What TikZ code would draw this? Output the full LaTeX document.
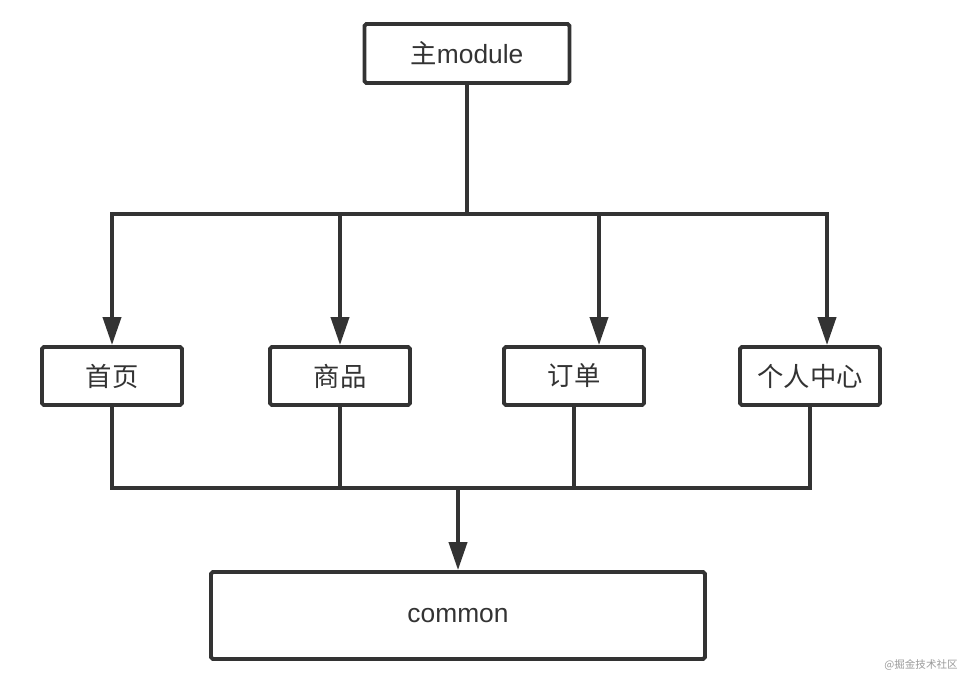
\documentclass[tikz,border=0pt]{standalone}
\usepackage{fontspec}
\setmainfont{Liberation Sans}
\newfontfamily\cjk{Noto Sans CJK SC}
\usetikzlibrary{arrows.meta}
\definecolor{DiagLine}{HTML}{333333}
\definecolor{DiagMark}{HTML}{9A9A9A}

\begin{document}
\begin{tikzpicture}[
  x=0.02cm, y=-0.02cm,
  every node/.style={font=\fontsize{15}{17}\selectfont, text=DiagLine},
  modbox/.style={draw=DiagLine, line width=2.2pt, rounded corners=1pt,
    minimum width=2.8cm, minimum height=1.16cm, inner sep=0pt},
  link/.style={draw=DiagLine, line width=2.2pt},
  tip/.style={-{Triangle[length=0.56cm, width=0.36cm]}},
  tipboth/.style={{Triangle[length=0.56cm, width=0.36cm]}-{Triangle[length=0.56cm, width=0.36cm]}},
]
\useasboundingbox (0,0) rectangle (972,684);

% ============ top: main module ============
\node[modbox, minimum width=4.1cm, minimum height=1.18cm] (main) at (467,53.5) {{\cjk 主}module};

% ============ middle row: feature modules ============
\node[modbox] (home)   at (112,376) {\cjk 首页};
\node[modbox] (goods)  at (340,376) {\cjk 商品};
\node[modbox] (order)  at (574,376) {\cjk 订单};
\node[modbox] (mine)   at (810,376) {\cjk 个人中心};

% ============ bottom: common ============
\node[modbox, minimum width=9.88cm, minimum height=1.74cm] (common) at (458,615.5) {common};

% bus points
\coordinate (topbus) at (467,214);
\coordinate (drop1) at (112,214);
\coordinate (drop2) at (340,214);
\coordinate (drop3) at (599,214);
\coordinate (drop4) at (827,214);
\coordinate (botbus) at (458,488);

% main -> features
\draw[link] (main.south) -- (topbus);
\draw[link, tipboth] (drop1 |- home.north) -- (drop1) -- (drop4) -- (drop4 |- mine.north);
\draw[link, tip] (drop2) -- (drop2 |- goods.north);
\draw[link, tip] (drop3) -- (drop3 |- order.north);

% features -> common
\draw[link] (home.south) |- (botbus) -| (mine.south);
\draw[link] (goods.south) -- (goods.south |- botbus);
\draw[link] (order.south) -- (order.south |- botbus);
\draw[link, tip] (botbus) -- (common.north);

\node[font=\fontsize{6}{7}\selectfont\cjk, text=DiagMark] (mark) at (921,665) {@掘金技术社区};
\end{tikzpicture}
\end{document}
